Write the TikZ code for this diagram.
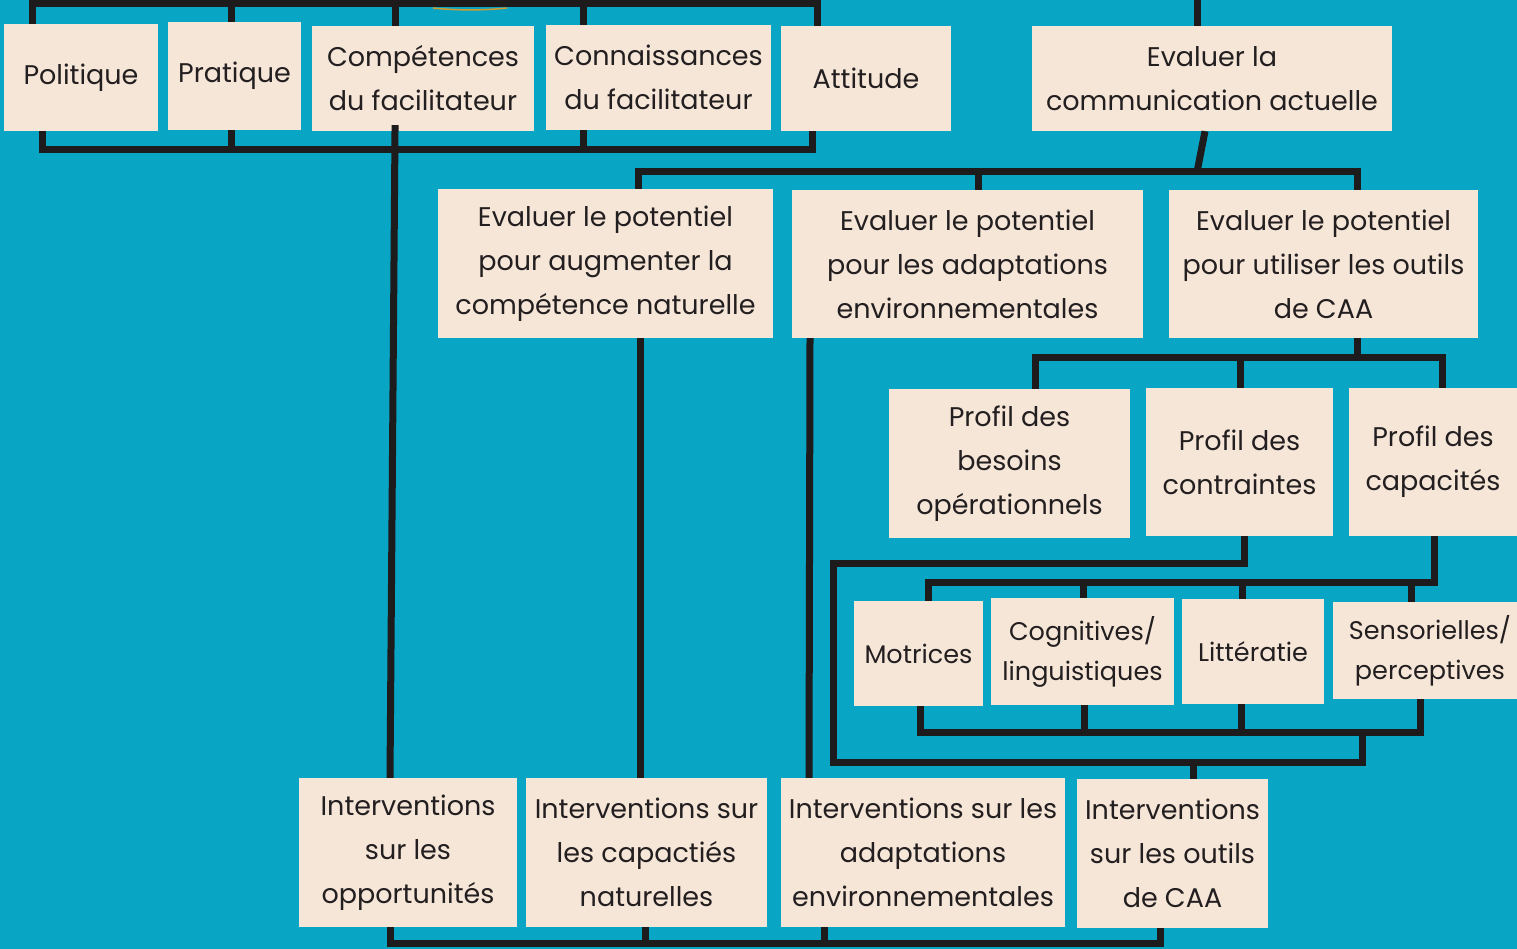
\documentclass[tikz,border=0pt]{standalone}
\usepackage{fontspec}
\setmainfont{Poppins}
\usetikzlibrary{calc}
\definecolor{bg_teal}{HTML}{08A5C5}
\definecolor{box_cream}{HTML}{F6E6D8}
\definecolor{line_dark}{HTML}{1D1B1B}
\definecolor{text_dark}{HTML}{231F20}
\definecolor{gold_glow}{HTML}{D49A2A}

\begin{document}
\begin{tikzpicture}[x=1pt,y=-1pt,
    box/.style={fill=box_cream,text=text_dark,inner sep=0pt,align=center,
      font=\fontsize{27}{44}\selectfont},
    small/.style={font=\fontsize{25.5}{40}\selectfont},
    link/.style={draw=line_dark,line width=7pt,line join=miter}]
              \useasboundingbox (0,0) rectangle (1517,949);
              \fill[bg_teal] (0,0) rectangle (1517,949);
              \draw[gold_glow,line width=1.5pt] (433,8) .. controls (455,10.5) and (485,10.5) .. (507,8);
              % bus levels
              \coordinate (busA) at (0,4);
              \coordinate (busB) at (0,150);
              \coordinate (busC) at (0,172);
              \coordinate (busD) at (0,357);
              \coordinate (busE) at (0,563);
              \coordinate (busH) at (0,582);
              \coordinate (busG) at (0,732);
              \coordinate (busF) at (0,762);
              \coordinate (busI) at (0,943);
              \coordinate (evtop) at (1197,-10);
              % top row
              \node[box,minimum width=154,minimum height=107] (pol) at (81,77.5) {Politique};
              \node[box,minimum width=133,minimum height=108] (pra) at (234.5,76) {Pratique};
              \node[box,minimum width=222,minimum height=105] (comp) at (423,78.5) {Compétences\\du facilitateur};
              \node[box,minimum width=225,minimum height=105] (conn) at (658.5,77.5) {Connaissances\\du facilitateur};
              \node[box,minimum width=170,minimum height=105] (att) at (866,78.5) {Attitude};
              \node[box,minimum width=360,minimum height=105] (evcom) at (1212,78.5) {Evaluer la\\communication actuelle};
              % evaluer le potentiel
              \node[box,minimum width=335,minimum height=149] (evnat) at (605.5,263.5) {Evaluer le potentiel\\pour augmenter la\\compétence naturelle};
              \node[box,minimum width=351,minimum height=148] (evenv) at (967.5,264) {Evaluer le potentiel\\pour les adaptations\\environnementales};
              \node[box,minimum width=309,minimum height=148] (evcaa) at (1323.5,264) {Evaluer le potentiel\\pour utiliser les outils\\de CAA};
              % profils
              \node[box,minimum width=241,minimum height=149] (pbes) at (1009.5,463.5) {Profil des\\besoins\\opérationnels};
              \node[box,minimum width=187,minimum height=148] (pcon) at (1239.5,462) {Profil des\\contraintes};
              \node[box,minimum width=168,minimum height=148] (pcap) at (1433,462) {Profil des\\capacités};
              % capacites
              \node[box,small,minimum width=129,minimum height=105] (mot) at (918.5,653.5) {Motrices};
              \node[box,small,minimum width=183,minimum height=107] (cog) at (1082.5,651.5) {Cognitives/\\linguistiques};
              \node[box,small,minimum width=142,minimum height=105] (lit) at (1253,651.5) {Littératie};
              \node[box,small,minimum width=194,minimum height=97] (sens) at (1430,650.5) {Sensorielles/\\perceptives};
              % interventions
              \node[box,minimum width=218,minimum height=149] (iopp) at (408,852.5) {Interventions\\sur les\\opportunités};
              \node[box,minimum width=241,minimum height=149] (icap) at (646.5,852.5) {Interventions sur\\les capactiés\\naturelles};
              \node[box,minimum width=284,minimum height=149] (ienv) at (923,852.5) {Interventions sur les\\adaptations\\environnementales};
              \node[box,minimum width=191,minimum height=149] (icaa) at (1172.5,853.5) {Interventions\\sur les outils\\de CAA};
              % connectors, top row
              \draw[link] (pol.north -| 32,0) -- (busA -| 32,0) -| (att.north -| 817,0);
              \foreach \n/\x in {pra/231,comp/395,conn/583}
                \draw[link] (busA -| \x,0) -- (\n.north -| \x,0);
              \draw[link] (pol.south -| 42,0) -- (busB -| 42,0) -| (att.south -| 812,0);
              \foreach \n/\x in {pra/231,conn/583}
                \draw[link] (\n.south -| \x,0) -- (busB -| \x,0);
              \draw[link,shorten <=-6pt] (comp.south -| 395,0) -- (iopp.north -| 390,0);
              % connectors, evaluer
              \draw[link] (evtop) -- (evcom.north -| evtop);
              \draw[link] (evcom.south -| 1205,0) -- (busC -| 1197,0);
              \draw[link] (evnat.north -| 638,0) -- (busC -| 638,0) -| (evcaa.north -| 1357,0);
              \draw[link] (busC -| 978,0) -- (evenv.north -| 978,0);
              \draw[link] (evnat.south -| 640,0) -- (icap.north -| 640,0);
              \draw[link] (evenv.south -| 810,0) -- (ienv.north -| 809,0);
              % connectors, profils
              \draw[link] (evcaa.south -| 1357,0) -- (busD -| 1357,0);
              \draw[link] (pbes.north -| 1035,0) -- (busD -| 1035,0) -| (pcap.north -| 1442,0);
              \draw[link] (busD -| 1240,0) -- (pcon.north -| 1240,0);
              \draw[link] (pcon.south -| 1244,0) -- (busE -| 1244,0) -| (busF -| 833,0) -| (busG -| 1362,0);
              \draw[link] (busF -| 1193,0) -- (icaa.north -| 1193,0);
              % connectors, capacites
              \draw[link] (pcap.south -| 1434,0) -- (busH -| 1434,0) -| (mot.north -| 928,0);
              \foreach \n/\x in {cog/1083,lit/1242,sens/1411}
                \draw[link] (busH -| \x,0) -- (\n.north -| \x,0);
              \draw[link] (mot.south -| 920,0) |- (busG -| 1420,0) -- (sens.south -| 1420,0);
              \foreach \n/\x in {cog/1084,lit/1241}
                \draw[link] (\n.south -| \x,0) -- (busG -| \x,0);
              % connectors, interventions
              \draw[link] (iopp.south -| 390,0) |- (busI -| 1160,0) -- (icaa.south -| 1160,0);
              \foreach \n/\x in {icap/645,ienv/824}
                \draw[link] (\n.south -| \x,0) -- (busI -| \x,0);
\end{tikzpicture}
\end{document}
